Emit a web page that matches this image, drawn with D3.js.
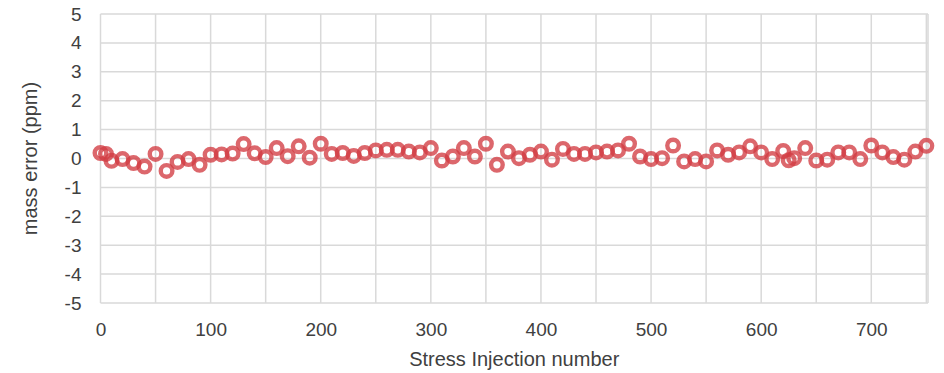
<!DOCTYPE html>
<html>
<head>
<meta charset="utf-8">
<script src="https://cdn.jsdelivr.net/npm/d3@7"></script>
<style>
  body { margin: 0; background: #fff; }
  text { font-family: "Liberation Sans", Arial, sans-serif; }
</style>
</head>
<body>
<div id="chart"></div>
<script>
// valeurs
const injections = [0, 5, 10, 20, 30, 40, 50, 60, 70, 80, 90, 100, 110, 120, 130, 140, 150, 160, 170, 180,
    190, 200, 210, 220, 230, 240, 250, 260, 270, 280, 290, 300, 310, 320, 330, 340, 350, 360, 370, 380,
    390, 400, 410, 420, 430, 440, 450, 460, 470, 480, 490, 500, 510, 520, 530, 540, 550, 560, 570, 580,
    590, 600, 610, 620, 625, 630, 640, 650, 660, 670, 680, 690, 700, 710, 720, 730, 740, 750];
const massError = [0.19, 0.16, -0.08, -0.02, -0.16, -0.28, 0.16, -0.43, -0.12, -0.02, -0.22, 0.13, 0.14, 0.17, 0.5, 0.18, 0.05, 0.36, 0.08, 0.42,
    0.03, 0.51, 0.16, 0.19, 0.09, 0.19, 0.28, 0.3, 0.3, 0.24, 0.21, 0.36, -0.07, 0.07, 0.36, 0.07, 0.51, -0.22, 0.24, 0.01,
    0.13, 0.24, -0.04, 0.33, 0.16, 0.16, 0.21, 0.24, 0.28, 0.51, 0.07, -0.02, 0.01, 0.45, -0.1, -0.02, -0.1, 0.28, 0.13, 0.21,
    0.42, 0.21, -0.02, 0.26, -0.06, 0.01, 0.36, -0.07, -0.04, 0.21, 0.21, -0.02, 0.45, 0.21, 0.05, -0.04, 0.24, 0.44];
const xTicks = [0, 100, 200, 300, 400, 500, 600, 700];
const xGrid = d3.range(0, 751, 50);
const yTicks = [-5, -4, -3, -2, -1, 0, 1, 2, 3, 4, 5];

const totalWidth = 944, totalHeight = 373,
    margin = {top: 14, right: 16, bottom: 70, left: 100.5},
    width = totalWidth - margin.left - margin.right,
    height = totalHeight - margin.top - margin.bottom,
    gridColor = "#d9d9d9",
    textColor = "#404040",
    markerColor = "#d23c42";

const svg = d3.select("#chart").append("svg")
    .attr("width", totalWidth)
    .attr("height", totalHeight)
    .append("g")
    .attr("transform", "translate(" + margin.left + "," + margin.top + ")");

const x = d3.scaleLinear().domain([0, 751.5]).range([0, width]);
const y = d3.scaleLinear().domain([-5, 5]).range([height, 0]);

// grille
svg.append("g").selectAll("line")
    .data(yTicks)
    .enter().append("line")
    .attr("x1", 0).attr("x2", width)
    .attr("y1", d => y(d)).attr("y2", d => y(d))
    .style("stroke", gridColor).style("stroke-width", 1.5);

svg.append("g").selectAll("line")
    .data(xGrid.concat([751.5]))
    .enter().append("line")
    .attr("x1", d => x(d)).attr("x2", d => x(d))
    .attr("y1", 0).attr("y2", height)
    .style("stroke", gridColor).style("stroke-width", 1.5);

// axes (texte seulement), signe moins en trait d'union comme l'original
const xAxis = svg.append("g")
    .attr("transform", "translate(0," + height + ")")
    .call(d3.axisBottom(x).tickValues(xTicks).tickFormat(d => String(d)).tickSize(0).tickPadding(20));
const yAxis = svg.append("g")
    .call(d3.axisLeft(y).tickValues(yTicks).tickFormat(d => String(d)).tickSize(0).tickPadding(19));
[xAxis, yAxis].forEach(a => {
    a.select(".domain").remove();
    a.selectAll("text")
        .style("font-size", "19px")
        .style("font-family", "'Liberation Sans', Arial, sans-serif")
        .style("fill", textColor);
});

svg.append("text")
    .attr("x", width / 2)
    .attr("y", height + 63)
    .attr("text-anchor", "middle")
    .style("font-size", "20px")
    .style("fill", textColor)
    .text("Stress Injection number");

svg.append("text")
    .attr("transform", "translate(" + (37 - margin.left) + "," + (height / 2) + ") rotate(-90)")
    .attr("text-anchor", "middle")
    .style("font-size", "20px")
    .style("fill", textColor)
    .text("mass error (ppm)");

// points
svg.append("g").selectAll("circle")
    .data(injections.map((d, i) => ({x: d, v: massError[i]})))
    .enter().append("circle")
    .attr("cx", d => x(d.x))
    .attr("cy", d => y(d.v))
    .attr("r", 5.8)
    .style("fill", "none")
    .style("stroke", markerColor)
    .style("stroke-opacity", 0.78)
    .style("stroke-width", 4.4);
</script>
</body>
</html>
